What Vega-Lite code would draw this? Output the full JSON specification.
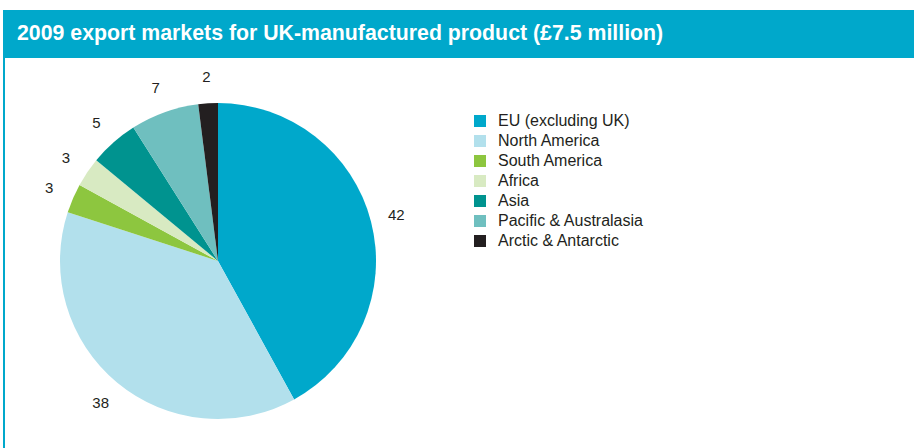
{
  "$schema": "https://vega.github.io/schema/vega-lite/v6.json",
  "background": "white",
  "padding": {"left": 3, "top": 10, "right": 0, "bottom": 0},
  "config": {"font": "Liberation Sans", "view": {"stroke": null}},
  "spacing": 0,
  "vconcat": [
    {
      "width": 911,
      "height": 48,
      "view": {"fill": "#00a8cb", "stroke": null},
      "title": {
        "text": "2009 export markets for UK-manufactured product (£7.5 million)",
        "anchor": "start",
        "frame": "group",
        "offset": -51,
        "dx": 14,
        "baseline": "alphabetic",
        "color": "white",
        "fontSize": 21.3,
        "fontWeight": "bold"
      },
      "data": {"values": [{}]},
      "mark": {"type": "text", "text": ""}
    },
    {
      "spacing": 0,
      "hconcat": [
        {
          "width": 2,
          "height": 408,
          "view": {"fill": "#00a8cb", "stroke": null},
          "data": {"values": [{}]},
          "mark": {"type": "text", "text": ""}
        },
        {
          "width": 426,
          "height": 406,
          "data": {
            "values": [
              {"market": "EU (excluding UK)", "share": 42, "rank": 1},
              {"market": "North America", "share": 38, "rank": 2},
              {"market": "South America", "share": 3, "rank": 3},
              {"market": "Africa", "share": 3, "rank": 4},
              {"market": "Asia", "share": 5, "rank": 5},
              {"market": "Pacific & Australasia", "share": 7, "rank": 6},
              {"market": "Arctic & Antarctic", "share": 2, "rank": 7}
            ]
          },
          "encoding": {
            "theta": {"field": "share", "type": "quantitative", "stack": true},
            "order": {"field": "rank", "type": "quantitative"},
            "color": {
              "field": "market",
              "type": "nominal",
              "scale": {
                "domain": ["EU (excluding UK)", "North America", "South America", "Africa", "Asia", "Pacific & Australasia", "Arctic & Antarctic"],
                "range": ["#00a8cb", "#b2e0ec", "#8dc63f", "#d8eac2", "#00938f", "#6fbfbf", "#231f20"]
              },
              "legend": {
                "title": null,
                "orient": "none",
                "legendX": 467,
                "legendY": 55,
                "symbolType": "square",
                "symbolSize": 144,
                "symbolStrokeWidth": 0,
                "labelFontSize": 16,
                "labelColor": "#231f20",
                "labelOffset": 10,
                "rowPadding": 4
              }
            }
          },
          "layer": [
            {"mark": {"type": "arc", "outerRadius": 158}},
            {
              "mark": {"type": "text", "radius": 184, "fontSize": 15},
              "encoding": {
                "text": {"field": "share", "type": "quantitative"},
                "color": {"value": "#231f20"}
              }
            }
          ]
        }
      ],
      "resolve": {"scale": {"color": "independent"}}
    }
  ],
  "resolve": {"scale": {"color": "independent"}}
}
